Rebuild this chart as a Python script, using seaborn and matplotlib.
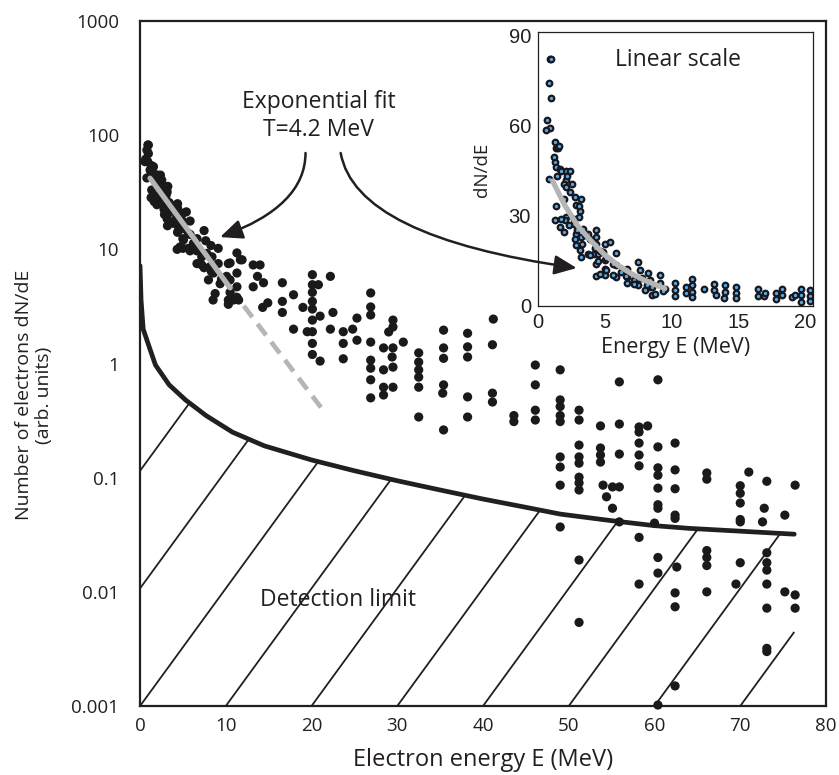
import numpy as np
import matplotlib
matplotlib.use("Agg")
import matplotlib.pyplot as plt
import seaborn as sns

# ---- data (E in MeV, dN/dE in arb. units) ----
# low-energy shots: shown in the log panel and in the linear inset
E_low = [0.92, 0.80, 0.66, 0.88, 1.31, 1.34, 1.50, 1.31, 1.34, 0.80, 1.41, 1.65, 2.07, 2.38,
         2.07, 1.95, 2.12, 2.43, 2.75, 3.24, 2.85, 3.16, 3.04, 2.07, 2.02, 1.29, 1.65, 1.97,
         2.68, 2.85, 2.80, 2.85, 3.16, 3.20, 3.24, 3.40, 3.77, 3.77, 4.20, 4.38, 4.38, 4.38,
         4.50, 4.38, 4.33, 4.87, 5.00, 5.00, 5.00, 5.00, 5.40, 5.84, 5.84, 5.84, 6.64, 6.64,
         6.64, 7.47, 7.66, 7.47, 7.47, 8.27, 8.39, 8.32, 8.52, 9.12, 9.12, 9.50, 10.3, 10.3, 10.3,
         0.97, 0.97, 0.58, 1.17, 1.56, 1.75, 2.14, 2.53, 1.95, 1.36, 1.75, 2.34, 2.72, 3.11,
         2.92, 3.50, 3.31, 3.89, 4.28, 4.67, 3.89, 4.48, 5.06, 5.64, 5.06, 4.67, 5.64, 6.23,
         6.62, 7.20, 7.79, 7.20, 8.18, 8.56, 7.98, 8.76, 9.34]
N_low = [82, 74, 61.7, 59, 54.3, 52.6, 52.4, 47.7, 46, 42.2, 43.3, 45.5, 44.7, 44.7,
         42, 40.5, 39.4, 37.8, 36.1, 35.6, 33.4, 31.7, 29.5, 29.5, 28.4, 28.4, 26.2, 24.6,
         27.3, 24, 22.4, 20.2, 18.5, 16.1, 22.9, 25.7, 24, 17.4, 17.4, 25.1, 22.9, 20.7,
         17.4, 14.1, 10, 18, 20.7, 15.2, 12.4, 10.2, 21.3, 17.7, 13.5, 9.7, 12.4, 9.7,
         7.5, 14.6, 11.9, 9.1, 6.9, 10.8, 8.6, 6.4, 3.6, 10.2, 7.5, 5.5, 7.5, 5.3, 3.3,
         82, 69, 58.6, 49.5, 53, 44.8, 43.3, 40.5, 35.4, 33.1, 28.9, 27, 28.9, 33.1,
         25.3, 23.7, 20.7, 22.1, 19.3, 18.1, 16.9, 14.8, 15.8, 13.8, 12.1, 10.5, 10.2, 11.3,
         9.9, 8.6, 9.2, 7.3, 7.05, 6.2, 5.4, 4.1, 5.0]

# 10-20 MeV part as read in the linear inset
E_tail = [11.07, 11.07, 11.55, 11.55, 11.55, 11.55, 12.4, 13.2, 13.2, 13.3, 14.0, 14.0, 13.9,
          14.8, 14.8, 14.8, 16.5, 16.5, 16.9, 17.0, 17.8, 17.8, 18.3, 18.3, 19.0, 19.25,
          19.7, 19.7, 19.7, 20.4, 20.4, 20.4]
N_tail = [6.4, 4.4, 9.1, 6.9, 4.7, 3.1, 5.5, 7.2, 5.3, 3.6, 6.9, 4.7, 2.5,
          6.4, 4.2, 2.5, 5.5, 3.3, 3.3, 4.3, 4.2, 2.2, 5.5, 3.5, 2.9, 3.6,
          5.8, 3.6, 1.4, 5.2, 3.3, 1.6]

# above 10 MeV as read in the log panel
E_high = [10.5, 11.3, 11.7, 11.3, 11.3, 11.3, 10.9, 10.5, 10.5, 10.3, 13.2, 14.0, 13.7, 13.2,
          14.4, 14.9, 14.3, 16.6, 16.6, 17.9, 16.6, 17.9, 19.0, 20.1, 20.1, 20.1, 20.8, 20.1,
          20.1, 20.1, 20.1, 20.1, 19.5, 21.0, 22.2, 22.5, 23.7, 23.7, 22.2, 25.3, 24.8, 25.3,
          20.1, 21.0, 23.7, 10.1, 11.5, 11.9,
          26.9, 26.9, 26.9, 29.5, 29.5, 29.0, 30.7, 26.9, 28.4, 29.5, 29.4, 26.9, 26.9, 28.4,
          29.5, 26.9, 28.4, 29.5, 26.9, 28.4,
          32.5, 32.5, 32.5, 32.5, 32.5, 32.5,
          35.4, 35.4, 35.4, 35.4, 35.3, 35.4,
          38.2, 38.2, 38.2, 38.2, 38.2,
          41.2, 41.1, 41.1, 41.1, 43.6, 43.6,
          46.1, 46.1, 46.1, 46.1,
          49.0, 49.0, 49.0, 49.0, 49.0, 49.0, 49.0, 49.0, 49.0,
          51.2, 51.2, 51.2, 51.2, 51.2, 51.2, 51.2, 51.2, 51.2, 51.2,
          53.7, 53.7, 53.7, 53.7, 54.0, 54.4, 55.1, 55.1,
          55.9, 55.9, 55.9, 55.9, 55.9,
          58.2, 58.2, 58.2, 58.2, 58.2, 58.2, 58.2, 59.2,
          60.4, 60.4, 60.4, 60.4, 60.4, 60.4, 60.4, 60.4, 60.4, 60.0, 60.4,
          62.4, 62.4, 62.4, 62.4, 62.4, 62.4, 62.4, 62.4, 62.6,
          66.1, 66.1, 66.1, 66.1, 66.1, 66.1,
          70.0, 70.0, 70.0, 70.0, 70.0, 70.0, 69.5, 71.0,
          73.1, 73.1, 73.1, 73.1, 73.1, 73.1, 73.1, 73.1, 72.8, 72.6,
          75.2, 75.2, 76.4, 76.4, 76.4]
N_high = [7.6, 9.3, 8.1, 6.2, 4.7, 3.8, 3.6, 5.4, 4.2, 3.6, 7.3, 7.3, 5.8, 4.7,
          5.1, 3.4, 3.1, 5.1, 3.5, 4.0, 2.8, 2.0, 3.1, 6.0, 4.9, 4.2, 4.9, 3.5,
          3.0, 2.4, 1.9, 1.5, 1.9, 2.6, 5.8, 2.8, 1.9, 1.5, 2.0, 2.5, 2.0, 1.6,
          1.2, 1.05, 1.1, 5.8, 3.6, 8.1,
          4.15, 3.13, 2.66, 2.40, 2.09, 1.89, 1.54, 1.54, 1.37, 1.37, 1.14, 1.07, 0.91, 0.88,
          0.93, 0.72, 0.62, 0.62, 0.50, 0.53,
          1.24, 1.03, 0.88, 0.76, 0.62, 0.34,
          1.96, 1.37, 1.11, 0.65, 0.55, 0.262,
          1.84, 1.40, 1.14, 0.51, 0.34,
          2.45, 1.46, 0.55, 0.46, 0.35, 0.31,
          0.97, 0.65, 0.39, 0.32,
          0.88, 0.48, 0.42, 0.35, 0.31, 0.152, 0.124, 0.086, 0.037,
          0.39, 0.32, 0.193, 0.152, 0.134, 0.101, 0.090, 0.078, 0.019, 0.0054,
          0.284, 0.182, 0.158, 0.137, 0.086, 0.068, 0.083, 0.054,
          0.69, 0.295, 0.161, 0.083, 0.041,
          0.278, 0.251, 0.201, 0.158, 0.127, 0.030, 0.0117, 0.284,
          0.72, 0.186, 0.122, 0.105, 0.081, 0.058, 0.054, 0.020, 0.0146, 0.040, 0.00102,
          0.201, 0.117, 0.080, 0.047, 0.044, 0.0098, 0.0074, 0.0015, 0.0165,
          0.110, 0.097, 0.023, 0.020, 0.017, 0.0100,
          0.085, 0.073, 0.060, 0.043, 0.041, 0.018, 0.0117, 0.112,
          0.093, 0.022, 0.018, 0.0155, 0.0117, 0.0072, 0.0032, 0.0030, 0.054, 0.041,
          0.047, 0.0100, 0.086, 0.0094, 0.0072]

# detection limit curve
E_det = [0.0, 0.12, 0.37, 1.0, 1.8, 3.4, 5.3, 7.7, 10.8, 14.5, 20, 25, 30, 35, 40, 45,
         49, 55, 60, 64, 70, 76.3]
N_det = [7.2, 3.6, 2.0, 1.45, 0.97, 0.65, 0.48, 0.35, 0.25, 0.19, 0.143, 0.115, 0.094,
         0.078, 0.065, 0.055, 0.048, 0.042, 0.038, 0.036, 0.034, 0.032]

# exponential fit (T = 4.2 MeV), as drawn
E_fit = [1.17, 10.5]
N_fit = [42, 4.6]
E_fit_ext = [10.5, 21.7]
N_fit_ext = [4.6, 0.36]
E_fit_in = [1.1, 2, 3, 4, 5, 6, 7, 8, 9.5]
N_fit_in = [41.5, 33.5, 26.5, 21.5, 17, 13.5, 10.7, 8.5, 5.8]

x_ticks = [0, 10, 20, 30, 40, 50, 60, 70, 80]
y_ticks = [1e-3, 1e-2, 1e-1, 1, 10, 100, 1000]
y_ticklabels = ['0.001', '0.01', '0.1', '1', '10', '100', '1000']
in_xticks = [0, 5, 10, 15, 20]
in_yticks = [0, 30, 60, 90]

INK = '#231f20'
GREY = '#b5b5b5'

sns.set_theme(style='white')
plt.rcParams['font.family'] = ['Open Sans', 'DejaVu Sans']

fig = plt.figure(figsize=(8.39, 7.75), dpi=100)
ax = fig.add_axes([0.1669, 0.0890, 0.8176, 0.8839])
ax.set_yscale('log')
ax.set_xlim(0, 80)
ax.set_ylim(1e-3, 1e3)

# hatching under the detection limit: parallel lines, one every 10 MeV
slope = 0.103
log_det = np.log10(N_det)
for e0 in range(-20, 80, 10):
    e_start = max(e0, 0)
    l_start = -3 + slope * (e_start - e0)
    grid = np.linspace(e_start, E_det[-1], 3000)
    line = l_start + slope * (grid - e_start)
    hit = np.nonzero(line >= np.interp(grid, E_det, log_det))[0]
    e_end = grid[hit[0]] if hit.size else E_det[-1]
    ax.plot([e_start, e_end], [10 ** l_start, 10 ** (l_start + slope * (e_end - e_start))],
            color=INK, lw=1.3, zorder=1, solid_capstyle='butt')

sns.lineplot(x=E_det, y=N_det, ax=ax, color=INK, lw=3.4, estimator=None, sort=False, zorder=2)
ax.plot(E_fit_ext, N_fit_ext, color=GREY, lw=3.4, ls=(0, (3, 1.8)), zorder=1.5)
sns.scatterplot(x=E_low + E_high, y=N_low + N_high, ax=ax, color='#1a1a1a', s=44,
                edgecolor='none', linewidth=0, zorder=3, clip_on=False)
sns.lineplot(x=E_fit, y=N_fit, ax=ax, color=GREY, lw=3.8, estimator=None, zorder=4)

ax.set_xticks(x_ticks)
ax.set_yticks(y_ticks)
ax.set_yticklabels(y_ticklabels)
ax.minorticks_off()
ax.tick_params(direction='in', length=6, width=1.5, colors=INK, labelsize=13.5)
ax.tick_params(axis='x', pad=8)
ax.tick_params(axis='y', pad=15)
for sp in ax.spines.values():
    sp.set_linewidth(1.6)
    sp.set_color(INK)

ax.set_xlabel('Electron energy E (MeV)', fontsize=17, color=INK)
ax.xaxis.set_label_coords(0.5, -0.079)
ax.xaxis.label.set_va('center')
ax.set_ylabel('Number of electrons dN/dE\n(arb. units)', fontsize=14, color=INK, linespacing=1.15)
ax.yaxis.set_label_coords(-0.155, 0.454)
ax.yaxis.label.set_va('center')

ax.text(20.8, 195, 'Exponential fit', ha='center', va='center', fontsize=16.5, color=INK)
ax.text(20.8, 111, 'T=4.2 MeV', ha='center', va='center', fontsize=16.5, color=INK)
ax.text(23.1, 0.0085, 'Detection limit', ha='center', va='center', fontsize=16.5, color=INK)

arrow = dict(arrowstyle='-|>,head_length=0.8,head_width=0.35', color=INK, lw=1.8,
             shrinkA=0, shrinkB=0, mutation_scale=17)
ax.annotate('', xy=(9.34, 12.8), xytext=(19.3, 69.8),
            arrowprops=dict(arrow, connectionstyle='angle3,angleA=-90,angleB=20'))

# ---- inset, linear scale ----
axin = fig.add_axes([0.6412, 0.6052, 0.3278, 0.3535])
axin.set_xlim(0, 20.6)
axin.set_ylim(0, 91)
sns.scatterplot(x=E_low + E_tail, y=N_low + N_tail, ax=axin, s=16, color='#5aa8e2',
                edgecolor='#17171f', linewidth=1.6, zorder=3)
sns.lineplot(x=E_fit_in, y=N_fit_in, ax=axin, color=GREY, lw=3.8, estimator=None, zorder=4)
axin.set_xticks(in_xticks)
axin.set_yticks(in_yticks)
axin.tick_params(direction='in', length=4, width=0.9, colors=INK, labelsize=14.5, pad=5)
for lab in axin.get_xticklabels() + axin.get_yticklabels():
    lab.set_family(['Liberation Sans', 'DejaVu Sans'])
for sp in axin.spines.values():
    sp.set_linewidth(0.9)
    sp.set_color(INK)
axin.set_xlabel('Energy E (MeV)', fontsize=15.5, color=INK)
axin.xaxis.set_label_coords(0.5, -0.153)
axin.xaxis.label.set_va('center')
axin.set_ylabel('dN/dE', fontsize=13.5, color=INK)
axin.yaxis.set_label_coords(-0.204, 0.496)
axin.yaxis.label.set_va('center')
axin.text(10.5, 81.7, 'Linear scale', ha='center', va='center', fontsize=16.5, color=INK)

axin.annotate('', xy=(2.9, 12.6), xycoords='data', xytext=(23.4, 69.8), textcoords=ax.transData,
              arrowprops=dict(arrow, connectionstyle='angle3,angleA=-80,angleB=-8'))

fig.savefig('out.png', dpi=100)
